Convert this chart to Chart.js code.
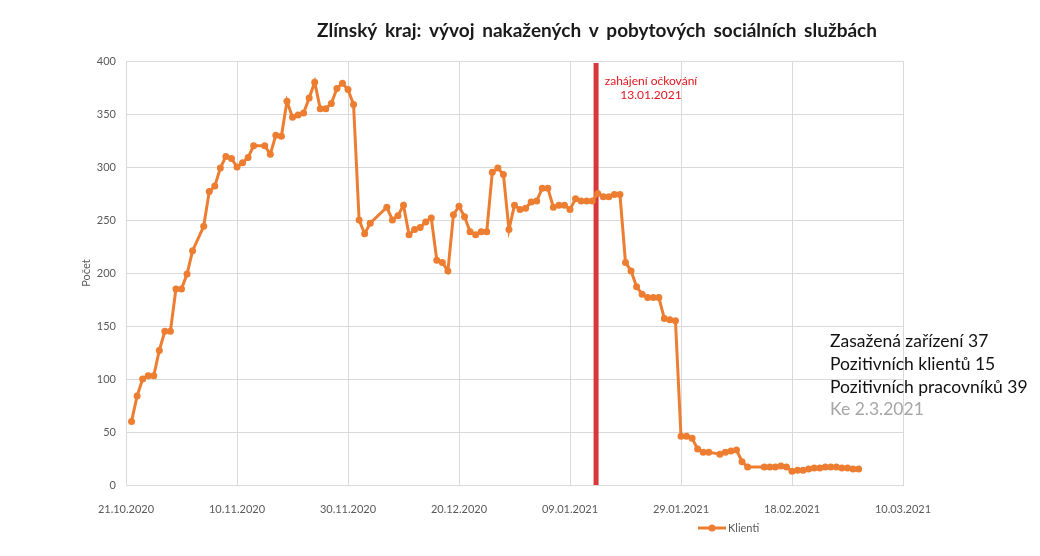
<!DOCTYPE html>
<html lang="cs">
<head>
<meta charset="utf-8">
<title>Zlínský kraj – pobytové sociální služby</title>
<script src="https://cdn.jsdelivr.net/npm/chart.js@4.4.1/dist/chart.umd.min.js"></script>
<style>
  html, body { margin: 0; padding: 0; background: #fff; }
  #wrap { position: relative; width: 1040px; height: 556px; }
</style>
</head>
<body>
<div id="wrap"><canvas id="myChart"></canvas></div>
<script>
var chartTitle = 'Zlínský kraj: vývoj nakažených v pobytových sociálních službách';
var seriesName = 'Klienti';
var yAxisTitle = 'Počet';
var axisStart = '21.10.2020';

// x ticks every 20 days
var xTickLabels = ['21.10.2020', '10.11.2020', '30.11.2020', '20.12.2020',
  '09.01.2021', '29.01.2021', '18.02.2021', '10.03.2021'];
var yTicks = [0, 50, 100, 150, 200, 250, 300, 350, 400];

var dates = [
  '22.10.2020', '23.10.2020', '24.10.2020', '25.10.2020', '26.10.2020', '27.10.2020', '28.10.2020', '29.10.2020', '30.10.2020', '31.10.2020',
  '01.11.2020', '02.11.2020', '04.11.2020', '05.11.2020', '06.11.2020', '07.11.2020', '08.11.2020', '09.11.2020', '10.11.2020', '11.11.2020',
  '12.11.2020', '13.11.2020', '15.11.2020', '16.11.2020', '17.11.2020', '18.11.2020', '19.11.2020', '20.11.2020', '21.11.2020', '22.11.2020',
  '23.11.2020', '24.11.2020', '25.11.2020', '26.11.2020', '27.11.2020', '28.11.2020', '29.11.2020', '30.11.2020',
  '01.12.2020', '02.12.2020', '03.12.2020', '04.12.2020', '07.12.2020', '08.12.2020', '09.12.2020', '10.12.2020', '11.12.2020', '12.12.2020',
  '13.12.2020', '14.12.2020', '15.12.2020', '16.12.2020', '17.12.2020', '18.12.2020', '19.12.2020', '20.12.2020', '21.12.2020', '22.12.2020',
  '23.12.2020', '24.12.2020', '25.12.2020', '26.12.2020', '27.12.2020', '28.12.2020', '29.12.2020', '30.12.2020', '31.12.2020',
  '01.01.2021', '02.01.2021', '03.01.2021', '04.01.2021', '05.01.2021', '06.01.2021', '07.01.2021', '08.01.2021', '09.01.2021', '10.01.2021',
  '11.01.2021', '12.01.2021', '13.01.2021', '14.01.2021', '15.01.2021', '16.01.2021', '17.01.2021', '18.01.2021', '19.01.2021', '20.01.2021',
  '21.01.2021', '22.01.2021', '23.01.2021', '24.01.2021', '25.01.2021', '26.01.2021', '27.01.2021', '28.01.2021', '29.01.2021', '30.01.2021',
  '31.01.2021',
  '01.02.2021', '02.02.2021', '03.02.2021', '05.02.2021', '06.02.2021', '07.02.2021', '08.02.2021', '09.02.2021', '10.02.2021',
  '13.02.2021', '14.02.2021', '15.02.2021', '16.02.2021', '17.02.2021', '18.02.2021', '19.02.2021', '20.02.2021', '21.02.2021', '22.02.2021',
  '23.02.2021', '24.02.2021', '25.02.2021', '26.02.2021', '27.02.2021', '28.02.2021',
  '01.03.2021', '02.03.2021'
];

var klienti = [
  60, 84, 100, 103, 103, 127, 145, 145, 185, 185,
  199, 221, 244, 277, 282, 299, 310, 308, 300, 304,
  309, 320, 320, 312, 330, 329, 362, 347, 349, 351,
  365, 380, 355, 355, 360, 374, 379, 373,
  359, 250, 237, 247, 262, 250, 254, 264, 236, 241,
  243, 248, 252, 212, 210, 202, 255, 263, 253, 239,
  236, 239, 239, 295, 299, 293, 241, 264, 260,
  261, 267, 268, 280, 280, 262, 264, 264, 260, 270,
  268, 268, 268, 275, 272, 272, 274, 274, 210, 202,
  187, 180, 177, 177, 177, 157, 156, 155, 46, 46,
  44,
  34, 31, 31, 29, 31, 32, 33, 22, 17,
  17, 17, 17, 18, 17, 13, 14, 14, 15, 16,
  16, 17, 17, 17, 16, 16,
  15, 15
];

var vaccinationDate = '13.01.2021';
var vaccinationLabel = ['zahájení očkování', '13.01.2021'];
var summaryLines = ['Zasažená zařízení 37', 'Pozitivních klientů 15', 'Pozitivních pracovníků 39'];
var summaryDate = 'Ke 2.3.2021';

var orange = '#ed7d31';
var gridColor = '#d9d9d9';
var labelColor = '#595959';
var fontFamily = 'Lato, "Open Sans", sans-serif';

function parseDate(s) {
  var p = s.split('.');
  return Date.UTC(+p[2], +p[1] - 1, +p[0]);
}
// days since axis start
function dayOf(s) {
  return (parseDate(s) - parseDate(axisStart)) / 86400000;
}

var points = dates.map(function(d, i) {
  return { x: dayOf(d), y: klienti[i] };
});

var overlay = {
  id: 'overlay',
  beforeDatasetsDraw: function(chart) {
    var ctx = chart.ctx, area = chart.chartArea;
    var x = chart.scales.x.getPixelForValue(dayOf(vaccinationDate) + 0.7);
    ctx.save();
    ctx.strokeStyle = '#d9383b';
    ctx.lineWidth = 5;
    ctx.beginPath();
    ctx.moveTo(x, area.top + 2);
    ctx.lineTo(x, area.bottom);
    ctx.stroke();
    ctx.restore();
  },
  afterDraw: function(chart) {
    var ctx = chart.ctx;
    ctx.save();
    // title
    ctx.fillStyle = '#1a1a1a';
    ctx.font = 'bold 19px ' + fontFamily;
    ctx.textAlign = 'center';
    ctx.textBaseline = 'middle';
    ctx.wordSpacing = '3px';
    ctx.fillText(chartTitle, 597, 31);
    ctx.wordSpacing = '0px';

    // vaccination label
    ctx.fillStyle = '#e3161d';
    ctx.font = '12px ' + fontFamily;
    ctx.fillText(vaccinationLabel[0], 651, 81);
    ctx.fillText(vaccinationLabel[1], 651, 95);

    // summary block
    ctx.textAlign = 'left';
    ctx.font = '17.5px ' + fontFamily;
    ctx.fillStyle = '#111111';
    summaryLines.forEach(function(t, i) {
      ctx.fillText(t, 830, 341 + i * 23);
    });
    ctx.fillStyle = '#a6a6a6';
    ctx.fillText(summaryDate, 830, 409);

    // legend
    ctx.strokeStyle = orange;
    ctx.lineWidth = 3;
    ctx.beginPath();
    ctx.moveTo(698, 528);
    ctx.lineTo(726, 528);
    ctx.stroke();
    ctx.fillStyle = orange;
    ctx.beginPath();
    ctx.arc(712, 528, 3.5, 0, Math.PI * 2);
    ctx.fill();
    ctx.fillStyle = labelColor;
    ctx.font = '11px ' + fontFamily;
    ctx.fillText(seriesName, 728, 528);
    ctx.restore();
  }
};

var ctx = document.getElementById('myChart').getContext('2d');
var myChart = new Chart(ctx, {
  type: 'line',
  data: {
    datasets: [
      {
        label: seriesName,
        data: points,
        borderColor: orange,
        backgroundColor: orange,
        borderWidth: 3,
        pointRadius: 3.5,
        pointBorderWidth: 0,
        pointBackgroundColor: orange,
        tension: 0
      }
    ]
  },
  options: {
    responsive: true,
    maintainAspectRatio: false,
    animation: false,
    layout: {
      padding: { top: 61, left: 70, right: 137, bottom: 31 }
    },
    plugins: {
      legend: { display: false },
      title: { display: false },
      tooltip: { enabled: false }
    },
    scales: {
      x: {
        type: 'linear',
        min: 0,
        max: 140,
        afterFit: function(scale) { scale.height = 40; },
        afterBuildTicks: function(scale) {
          scale.ticks = xTickLabels.map(function(l) { return { value: dayOf(l) }; });
        },
        ticks: {
          color: labelColor,
          font: { family: fontFamily, size: 11 },
          padding: 18,
          maxRotation: 0,
          autoSkip: false,
          callback: function(value, index) {
            return xTickLabels[index];
          }
        },
        grid: { color: gridColor, drawTicks: false },
        border: { color: gridColor }
      },
      y: {
        min: 0,
        max: 400,
        afterFit: function(scale) { scale.width = 56; },
        afterBuildTicks: function(scale) {
          scale.ticks = yTicks.map(function(v) { return { value: v }; });
        },
        ticks: {
          color: labelColor,
          font: { family: fontFamily, size: 11 },
          padding: 10
        },
        title: {
          display: true,
          text: yAxisTitle,
          color: labelColor,
          font: { family: fontFamily, size: 11 },
          padding: { top: 10, bottom: 0 }
        },
        grid: { color: gridColor, drawTicks: false },
        border: { color: gridColor }
      }
    }
  },
  plugins: [overlay]
});
</script>
</body>
</html>
